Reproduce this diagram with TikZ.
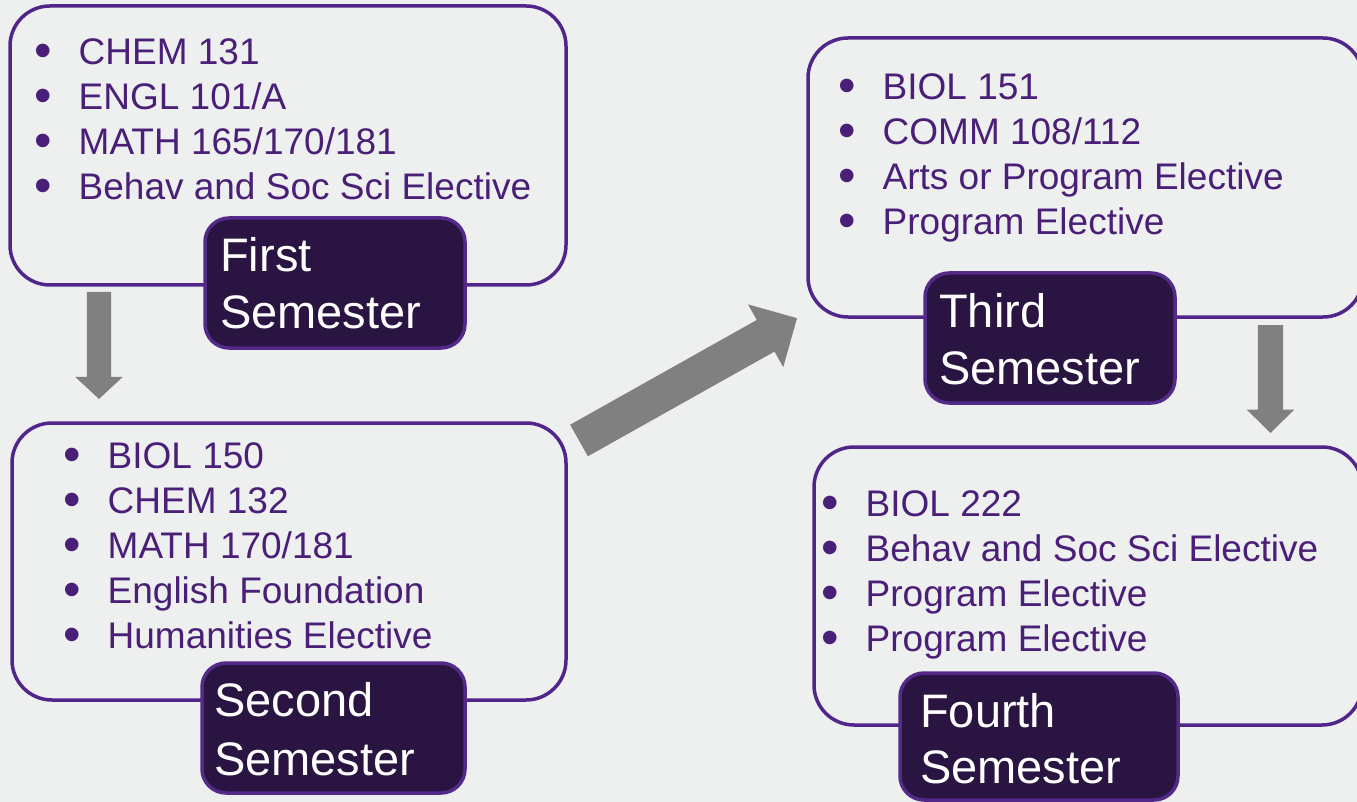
\documentclass[tikz,border=0pt]{standalone}
\usepackage{fontspec}
\setmainfont{Liberation Sans}
\usetikzlibrary{shapes.arrows}

\definecolor{bg}{HTML}{EEEFEF}
\definecolor{frame}{HTML}{50268A}
\definecolor{itemtext}{HTML}{4A1F78}
\definecolor{tagfill}{HTML}{2A1441}
\definecolor{tagframe}{HTML}{53298A}
\definecolor{flow}{HTML}{808080}

% bullet hung to the left of each course line
\newcommand{\bul}{\makebox[0pt][r]{\smash{\raisebox{-3pt}{\scalebox{1.35}{\textbullet}}}\hspace{26.3pt}}}

\begin{document}
\begin{tikzpicture}[x=1pt,y=-1pt,
  termbox/.style={draw=frame, line width=3.5pt, rounded corners=40pt, inner sep=0pt, outer sep=0pt},
  tag/.style={draw=tagframe, line width=3.5pt, fill=tagfill, rounded corners=24pt, inner sep=0pt, outer sep=0pt},
  item/.style={anchor=base west, inner sep=0pt, text=itemtext, font=\fontsize{37}{44}\selectfont},
  tagtext/.style={anchor=base west, inner sep=0pt, text=white, font=\fontsize{47}{56}\selectfont},
  flowarrow/.style={single arrow, fill=flow, draw=none, outer sep=0pt, anchor=tail,
                    single arrow head indent=0pt}]

\useasboundingbox (0,0) rectangle (1357,802);
\fill[bg] (0,0) rectangle (1357,802);
\clip (0,0) rectangle (1357,802);

% semester frames
\node[termbox, minimum width=556pt, minimum height=279pt] (b1) at (288,145.5) {};
\node[termbox, minimum width=554pt, minimum height=277pt] (b2) at (289,561.5) {};
\node[termbox, minimum width=555pt, minimum height=279pt] (b3) at (1085.5,177.5) {};
\node[termbox, minimum width=548pt, minimum height=278pt] (b4) at (1088,586) {};

% semester tags
\node[tag, minimum width=260pt, minimum height=130pt] (l1) at (335,283) {};
\node[tag, minimum width=263pt, minimum height=130pt] (l2) at (333.5,728) {};
\node[tag, minimum width=250pt, minimum height=130pt] (l3) at (1050,338) {};
\node[tag, minimum width=278pt, minimum height=127pt] (l4) at (1039,736.5) {};

\node[tagtext] (l1a) at (220,272) {First};
\node[tagtext] (l1b) at (220,328) {Semester};
\node[tagtext] (l2a) at (214,716) {Second};
\node[tagtext] (l2b) at (214,775) {Semester};
\node[tagtext] (l3a) at (939,327) {Third};
\node[tagtext] (l3b) at (939,384) {Semester};
\node[tagtext] (l4a) at (920,727) {Fourth};
\node[tagtext] (l4b) at (920,783) {Semester};

% course lists
\foreach \t [count=\k] in {CHEM 131, ENGL 101/A, MATH 165/170/181, Behav and Soc Sci Elective}
  \node[item] (i1\k) at (78.5, 20+45*\k) {\bul\t};
\foreach \t [count=\k] in {BIOL 150, CHEM 132, MATH 170/181, English Foundation, Humanities Elective}
  \node[item] (i2\k) at (107.5, 423+45*\k) {\bul\t};
\foreach \t [count=\k] in {BIOL 151, COMM 108/112, Arts or Program Elective, Program Elective}
  \node[item] (i3\k) at (882.5, 55+45*\k) {\bul\t};
\foreach \t [count=\k] in {BIOL 222, Behav and Soc Sci Elective, Program Elective, Program Elective}
  \node[item] (i4\k) at (865.5, 471+45*\k) {\bul\t};

% progression arrows
\node[flowarrow, rotate=-90, minimum height=107pt, inner sep=12pt,
      single arrow head extend=11.5pt, single arrow tip angle=94] (a1) at (99,292) {};
\node[flowarrow, rotate=29.3, minimum height=250pt, inner sep=17.9pt,
      single arrow head extend=17.9pt, single arrow tip angle=90] (a2) at (579,440.5) {};
\node[flowarrow, rotate=-90, minimum height=108pt, inner sep=12.5pt,
      single arrow head extend=11pt, single arrow tip angle=91] (a3) at (1270.5,325) {};
\end{tikzpicture}
\end{document}
